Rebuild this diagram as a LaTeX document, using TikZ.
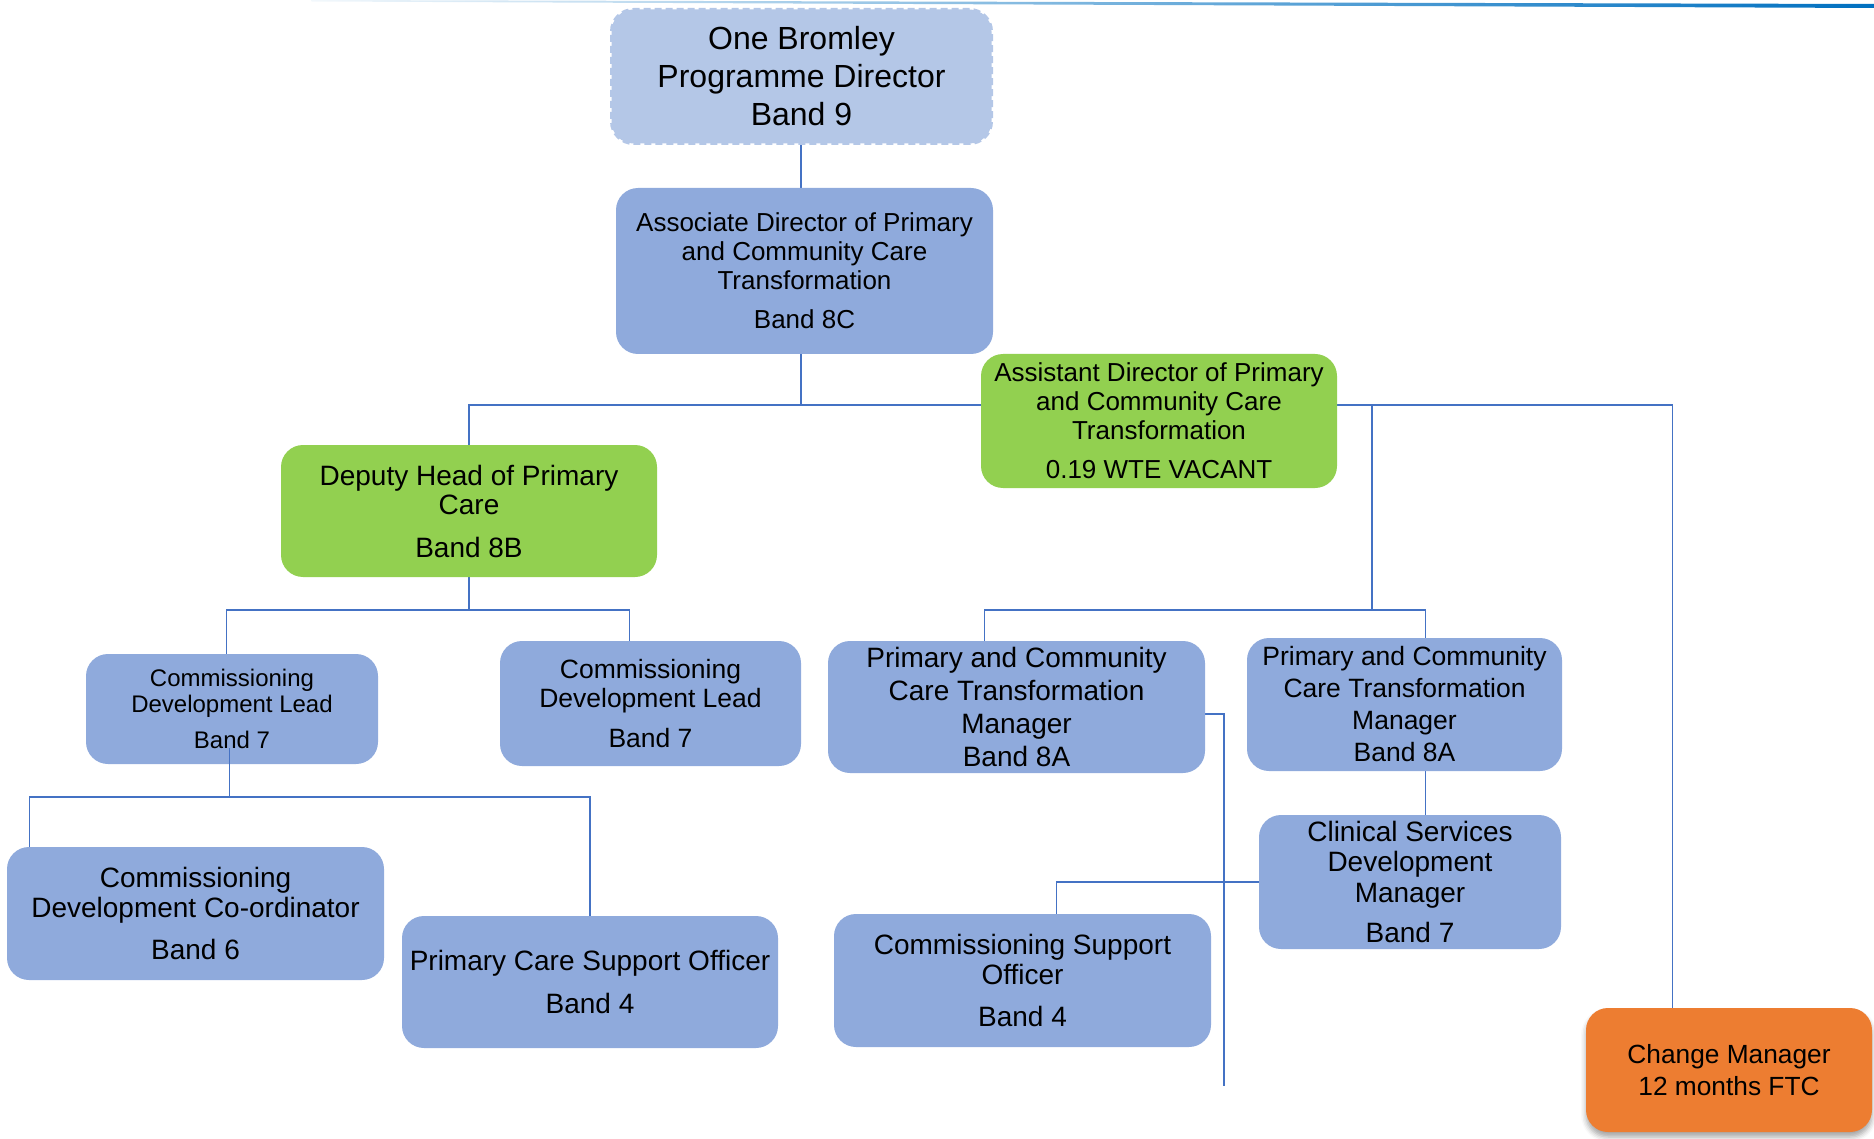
\documentclass[tikz,border=0pt]{standalone}
\usepackage{fontspec}
\setmainfont{Liberation Sans}
\usetikzlibrary{backgrounds,shadows.blur,calc}
\definecolor{bluebox}{HTML}{8FAADC}
\definecolor{paleblue}{HTML}{B4C7E7}
\definecolor{greenbox}{HTML}{92D050}
\definecolor{orangebox}{HTML}{ED7D31}
\definecolor{linkblue}{HTML}{4472C4}
\definecolor{topline}{HTML}{0070C0}
\tikzset{
  box/.style={rounded corners=22pt, fill=bluebox, align=center, inner sep=0pt, text=black},
  link/.style={draw=linkblue, line width=1.3pt},
}
\begin{document}
\begin{tikzpicture}[x=1pt,y=-1pt]
\useasboundingbox (0,0) rectangle (1874,1139);
% top rule
\shade[left color=topline!5, middle color=topline!90, right color=topline] (311,0) -- (1874,4) -- (1874,8) -- (311,1.5) -- cycle;

% nodes
\node[box, fill=paleblue, draw=paleblue, line width=3pt, dash pattern=on 7pt off 4pt,
      minimum width=380, minimum height=134, font=\fontsize{32}{38}\selectfont]
  (ob) at (801.5,76.5) {One Bromley\\Programme Director\\Band 9};
\node[box, minimum width=377, minimum height=166, font=\fontsize{26}{29}\selectfont]
  (ad) at (804.5,271) {Associate Director of Primary\\and Community Care\\Transformation\\[10pt]Band 8C};
\node[box, fill=greenbox, minimum width=356, minimum height=134, font=\fontsize{26}{29}\selectfont]
  (asd) at (1159,421) {Assistant Director of Primary\\and Community Care\\Transformation\\[10pt]0.19 WTE VACANT};
\node[box, fill=greenbox, minimum width=376, minimum height=132, font=\fontsize{28}{29}\selectfont]
  (dh) at (469,511) {Deputy Head of Primary\\Care\\[14pt]Band 8B};
\node[box, minimum width=292, minimum height=110, font=\fontsize{24}{26}\selectfont]
  (cdl1) at (232,709) {Commissioning\\Development Lead\\[10pt]Band 7};
\node[box, minimum width=301, minimum height=125, font=\fontsize{26.5}{29}\selectfont]
  (cdl2) at (650.5,703.5) {Commissioning\\Development Lead\\[11pt]Band 7};
\node[box, minimum width=377, minimum height=132, font=\fontsize{28}{33}\selectfont]
  (pm1) at (1016.5,707) {Primary and Community\\Care Transformation\\Manager\\Band 8A};
\node[box, minimum width=315, minimum height=133, font=\fontsize{26.5}{32}\selectfont]
  (pm2) at (1404.5,704.5) {Primary and Community\\Care Transformation\\Manager\\Band 8A};
\node[box, minimum width=302, minimum height=134, font=\fontsize{28}{30.5}\selectfont]
  (csdm) at (1410,882) {Clinical Services\\Development\\Manager\\[10pt]Band 7};
\node[box, minimum width=377, minimum height=133, font=\fontsize{28}{30}\selectfont]
  (cdc) at (195.5,913.5) {Commissioning\\Development Co-ordinator\\[12pt]Band 6};
\node[box, minimum width=376, minimum height=132, font=\fontsize{28}{30}\selectfont]
  (pcso) at (590,982) {Primary Care Support Officer\\[13pt]Band 4};
\node[box, minimum width=377, minimum height=133, font=\fontsize{28}{30}\selectfont]
  (cso) at (1022.5,980.5) {Commissioning Support\\Officer\\[12pt]Band 4};
\node[box, fill=orangebox, minimum width=286, minimum height=124, font=\fontsize{26.3}{32}\selectfont,
      blur shadow={shadow xshift=0pt, shadow yshift=-5pt, shadow blur radius=5pt, shadow opacity=35}]
  (cm) at (1729,1070) {Change Manager\\12 months FTC};

% coordinates
\coordinate (bus1) at (801,405);
\coordinate (bus2) at (1372,610);
\coordinate (bus3) at (469,610);
\coordinate (bus4) at (229.5,797);
\coordinate (pmend) at (1224,1086);

\begin{pgfonlayer}{background}
\draw[link] (bus1 |- ob.south) -- (bus1 |- ad.north);
\draw[link] (bus1 |- ad.south) -- (bus1);
\draw[link] (dh.north) |- (asd.west |- bus1);
\draw[link] (asd.east |- bus1) -| ($(cm.north west)+(87,0)$);
\draw[link] (bus2 |- bus1) -- (bus2);
\draw[link] ($(pm1.north west)+(157,0)$) |- (bus2) -| ($(pm2.north west)+(179,0)$);
\draw[link] (dh.south) -- (bus3);
\draw[link] ($(cdl1.north west)+(141,0)$) |- (bus3) -| ($(cdl2.north west)+(130,0)$);
\draw[link] ($(cdc.north west)+(23,0)$) |- (bus4) -| (pcso.north);
\draw[link] ($(pm1.east)+(0,7)$) -| (pmend);
\draw[link] ($(pm2.south west)+(179,0)$) coordinate (p2s) -- (p2s |- csdm.north);
\draw[link] (csdm.west) -| ($(cso.north west)+(223,0)$);
\end{pgfonlayer}
\draw[link] ($(cdl1.south)+(-2.5,-16)$) -- (bus4);
\end{tikzpicture}
\end{document}
